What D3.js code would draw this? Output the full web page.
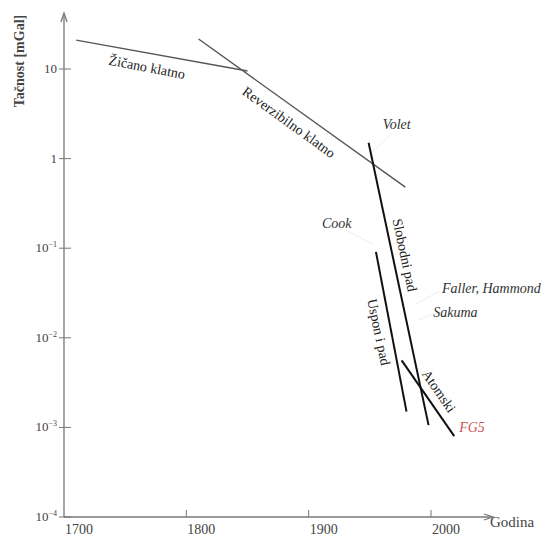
<!DOCTYPE html>
<html>
<head>
<meta charset="utf-8">
<script src="https://cdn.jsdelivr.net/npm/d3@7"></script>
<style>
  body { margin: 0; background: #fff; }
</style>
</head>
<body>
<svg id="chart" width="548" height="538"></svg>
<script>
var SERIF = "Liberation Serif";

// year range and decades on the log axis
var yearTicks = [1700, 1800, 1900, 2000];
var decadeTicks = [1e1, 1, 1e-1, 1e-2, 1e-3, 1e-4];
var decadeLabels = ["10", "1", "10|−1", "10|−2", "10|−3", "10|−4"];

// each method: [startYear, startAccuracy, endYear, endAccuracy]
var methodNames = ["Žičano klatno", "Reverzibilno klatno", "Slobodni pad", "Uspon i pad", "Atomski"];
var methodLines = [
  [1710, 21, 1850, 9.5],
  [1810, 21.6, 1979, 0.48],
  [1949, 1.5, 1998, 1.06e-3],
  [1955, 0.091, 1980, 1.5e-3],
  [1976, 5.6e-3, 2019, 8.0e-4]
];
var methodHeavy = [false, false, true, true, true];

// labelled experiments [name, year, accuracy]
var experiments = [
  ["Volet", 1972, 2.4],
  ["Cook", 1923, 0.19],
  ["Faller, Hammond", 2009, 0.036],
  ["Sakuma", 2020, 0.0194],
  ["FG5", 2023, 1.0e-3]
];

var svg = d3.select("#chart");

var x = d3.scaleLinear().domain([1700, 2000]).range([64, 431]);
var y = d3.scaleLog().domain([1e-4, 1e1]).range([517, 69]);

// axes with a little overshoot and open arrow heads
var axisG = svg.append("g").attr("stroke", "#777").attr("stroke-width", 1.3).attr("fill", "none");
axisG.append("line").attr("x1", 64).attr("y1", 517).attr("x2", 64).attr("y2", 14);
axisG.append("line").attr("x1", 64).attr("y1", 517).attr("x2", 492).attr("y2", 517);
axisG.append("path").attr("d", "M61,22 L64,13 L67,22");
axisG.append("path").attr("d", "M484,514 L493,517 L484,520");

// y ticks crossing the axis
decadeTicks.forEach(function(d, i){
  axisG.append("line")
    .attr("x1", 59).attr("x2", 71)
    .attr("y1", y(d)).attr("y2", y(d))
    .attr("stroke-width", 1);
  var parts = decadeLabels[i].split("|");
  var t = svg.append("text")
    .attr("x", 57).attr("y", y(d) + 4)
    .attr("text-anchor", "end")
    .attr("font-family", SERIF)
    .attr("font-size", 13).attr("fill", "#444");
  t.append("tspan").text(parts[0]);
  if (parts[1]) {
    t.append("tspan").attr("dy", -5).attr("font-size", 8).text(parts[1]);
  }
});

// x ticks, labels left-aligned at the tick
yearTicks.forEach(function(d){
  if (d > 1700) {
    axisG.append("line")
      .attr("x1", x(d)).attr("x2", x(d))
      .attr("y1", 510).attr("y2", 517)
      .attr("stroke-width", 1);
  }
  svg.append("text")
    .attr("x", x(d) + 1).attr("y", 534)
    .attr("font-family", SERIF)
    .attr("font-size", 14).attr("fill", "#444")
    .text(d);
});

svg.append("text")
  .attr("x", 490).attr("y", 527)
  .attr("font-family", SERIF)
  .attr("font-size", 15).attr("fill", "#444")
  .text("Godina");

svg.append("text")
  .attr("transform", "translate(24,61) rotate(-90)")
  .attr("text-anchor", "middle")
  .attr("font-family", SERIF)
  .attr("font-size", 14).attr("font-weight", "bold").attr("fill", "#444")
  .text("Tačnost [mGal]");

// faint leader lines from experiment names
var leaders = [
  [1968, 1.9, 1952, 1.2],
  [1930, 0.16, 1953, 0.11],
  [2007, 0.033, 1988, 0.024],
  [2007, 0.0194, 1990, 0.016]
];
leaders.forEach(function(l){
  svg.append("line")
    .attr("x1", x(l[0])).attr("y1", y(l[1]))
    .attr("x2", x(l[2])).attr("y2", y(l[3]))
    .attr("stroke", "#eee").attr("stroke-width", 1);
});

// method lines
methodLines.forEach(function(m, i){
  svg.append("line")
    .attr("x1", x(m[0])).attr("y1", y(m[1]))
    .attr("x2", x(m[2])).attr("y2", y(m[3]))
    .attr("stroke", methodHeavy[i] ? "#111" : "#555")
    .attr("stroke-width", methodHeavy[i] ? 2 : 1.4);
});

// method labels along their lines: [cx, cy, angle]
var methodLabelPos = [
  [147, 67, 11],
  [289, 122, 36],
  [405, 255, 78],
  [379, 332, 78],
  [439, 391, 55]
];
methodNames.forEach(function(n, i){
  var p = methodLabelPos[i];
  svg.append("text")
    .attr("transform", "translate(" + p[0] + "," + p[1] + ") rotate(" + p[2] + ")")
    .attr("text-anchor", "middle")
    .attr("dy", "0.35em")
    .attr("font-family", SERIF)
    .attr("font-size", 14).attr("fill", "#222")
    .text(n);
});

experiments.forEach(function(e){
  svg.append("text")
    .attr("x", x(e[1])).attr("y", y(e[2]))
    .attr("text-anchor", e[0] == "Faller, Hammond" || e[0] == "FG5" ? "start" : "middle")
    .attr("dy", "0.35em")
    .attr("font-family", SERIF)
    .attr("font-size", 14).attr("font-style", "italic")
    .attr("fill", e[0] == "FG5" ? "#c55" : "#333")
    .text(e[0]);
});
</script>
</body>
</html>
